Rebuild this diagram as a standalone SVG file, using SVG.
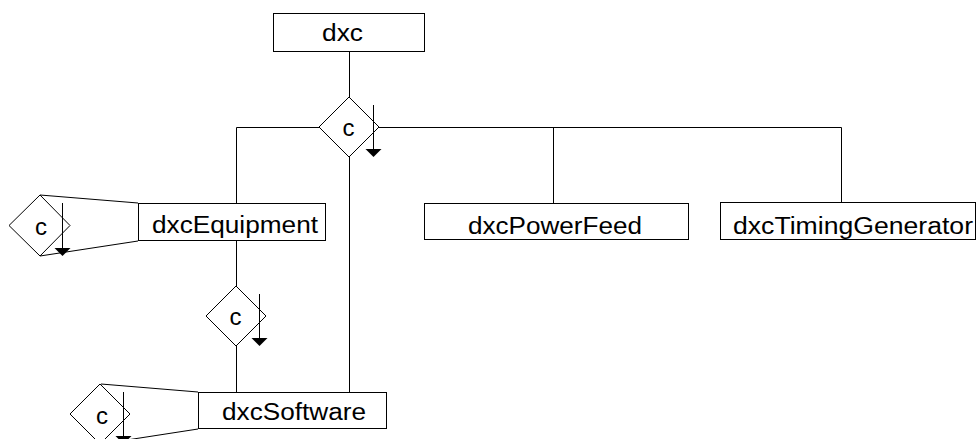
<svg xmlns="http://www.w3.org/2000/svg" width="978" height="439" viewBox="0 0 978 439">
<style>
.box{fill:#fff;stroke:#000;stroke-width:1}
.ln{fill:none;stroke:#000;stroke-width:1}
.t{font-family:"Liberation Sans",Arial,sans-serif;font-size:23px;fill:#000}
.c{font-family:"Liberation Sans",Arial,sans-serif;font-size:24px;fill:#000;text-anchor:middle}
.dm{fill:#fff;stroke:#000;stroke-width:1}
.ah{fill:#000;stroke:none}
</style>
<rect width="978" height="439" fill="#fff"/>
<g id="connectors">
<path class="ln" d="M349.5 52 V97 M349.5 157 V392 M236.5 127.5 H841.5 M236.5 127.5 V203 M553.5 127.5 V203 M841.5 127.5 V202 M236.5 241 V286 M236.5 346 V392"/>
<path class="ln" d="M40 195 L138 203 M40 256 L138 241 M101 384 L198 392 M101 444 L198 429"/>
</g>
<g id="dxc">
<rect class="box" x="273.5" y="13.5" width="151" height="38"/>
<text class="t" x="322" y="41" textLength="41" lengthAdjust="spacingAndGlyphs">dxc</text>
</g>
<g id="choice-dxc">
<polygon class="dm" points="349,97 379,127 349,157 319,127"/>
<text class="c" x="348.5" y="136">c</text>
<line class="ln" x1="373.5" y1="105" x2="373.5" y2="150"/>
<polygon class="ah" points="365.5,149 381.5,149 373.5,157"/>
</g>
<g id="dxcEquipment">
<rect class="box" x="138.5" y="203.5" width="187" height="37"/>
<text class="t" x="152" y="233" textLength="166" lengthAdjust="spacingAndGlyphs">dxcEquipment</text>
</g>
<g id="choice-equipment-self">
<polygon class="dm" points="40,195 70,225.5 40,256 9,225.5"/>
<text class="c" x="41" y="235">c</text>
<line class="ln" x1="62.5" y1="203" x2="62.5" y2="249"/>
<polygon class="ah" points="54.5,248 70.5,248 62.5,256"/>
</g>
<g id="dxcPowerFeed">
<rect class="box" x="424.5" y="203.5" width="264" height="36"/>
<text class="t" x="468" y="234" textLength="174" lengthAdjust="spacingAndGlyphs">dxcPowerFeed</text>
</g>
<g id="dxcTimingGenerator">
<rect class="box" x="720.5" y="202.5" width="255" height="37"/>
<text class="t" x="733" y="234" textLength="240" lengthAdjust="spacingAndGlyphs">dxcTimingGenerator</text>
</g>
<g id="choice-equipment">
<polygon class="dm" points="236,286 266,316 236,346 206,316"/>
<text class="c" x="235.5" y="325">c</text>
<line class="ln" x1="259.5" y1="294" x2="259.5" y2="339"/>
<polygon class="ah" points="251.5,338 267.5,338 259.5,346"/>
</g>
<g id="dxcSoftware">
<rect class="box" x="198.5" y="392.5" width="188" height="36"/>
<text class="t" x="222" y="420" textLength="144" lengthAdjust="spacingAndGlyphs">dxcSoftware</text>
</g>
<g id="choice-software-self">
<polygon class="dm" points="100,384 130,414 100,444 70,414"/>
<text class="c" x="102" y="424">c</text>
<line class="ln" x1="123.5" y1="392" x2="123.5" y2="437"/>
<polygon class="ah" points="115.5,436 131.5,436 123.5,444"/>
</g>
</svg>
